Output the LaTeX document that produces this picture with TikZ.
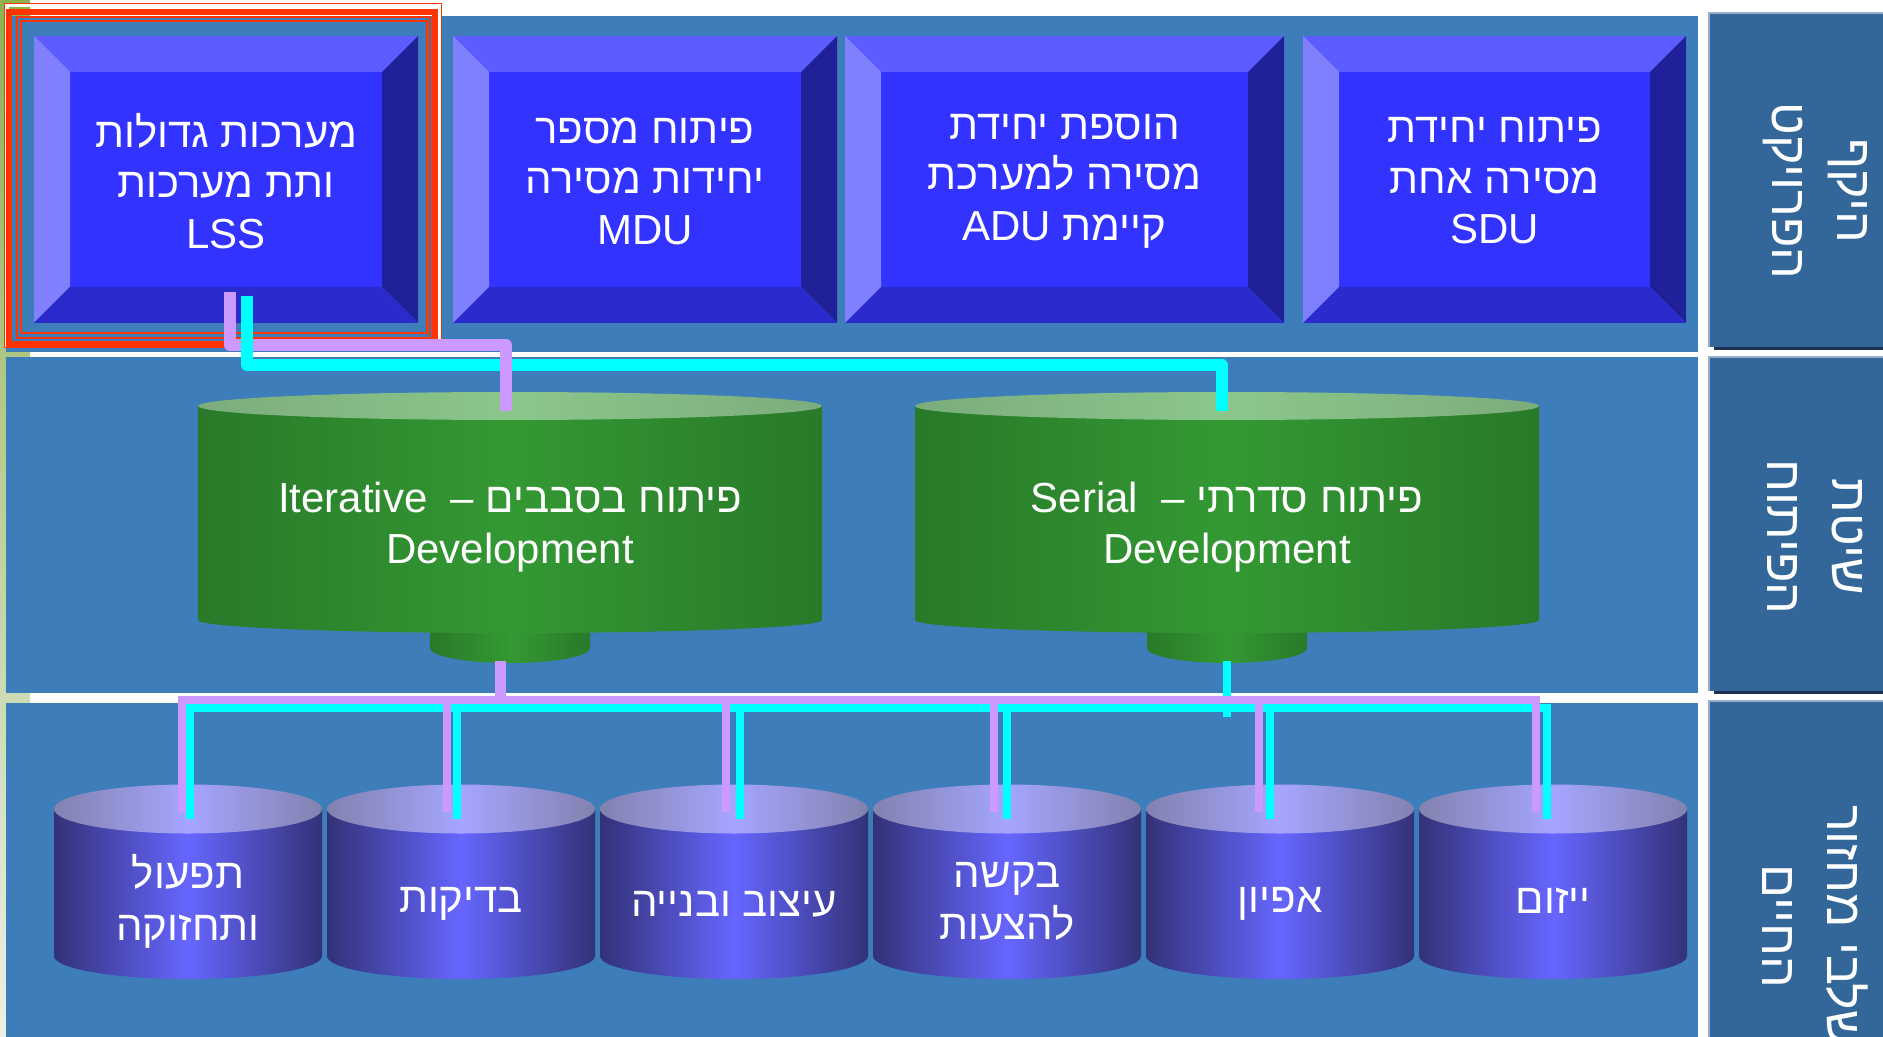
\documentclass[tikz,border=0pt]{standalone}
\usepackage{fontspec}
\setmainfont{Liberation Sans}
\newfontfamily\heb[Script=Hebrew]{Liberation Sans}
\TeXXeTstate=1
\newcommand\HE[1]{{\heb\beginR #1\endR}}
\definecolor{panelc}{RGB}{61,125,186}
\definecolor{labc}{RGB}{52,103,153}
\definecolor{labborder}{RGB}{150,175,205}
\definecolor{labshadow}{RGB}{30,50,85}
\definecolor{stripT}{RGB}{140,178,78}
\definecolor{stripB}{RGB}{236,240,230}
\definecolor{bvface}{RGB}{51,51,255}
\definecolor{bvtop}{RGB}{92,92,255}
\definecolor{bvleft}{RGB}{128,128,255}
\definecolor{bvright}{RGB}{32,32,153}
\definecolor{bvbottom}{RGB}{42,42,205}
\definecolor{redc}{RGB}{255,51,0}
\definecolor{gdark}{RGB}{41,121,41}
\definecolor{gmid}{RGB}{51,153,51}
\definecolor{gtopE}{RGB}{124,172,124}
\definecolor{gtopM}{RGB}{139,199,139}
\definecolor{bdark}{RGB}{50,50,120}
\definecolor{bmid}{RGB}{102,102,255}
\definecolor{btopE}{RGB}{130,130,175}
\definecolor{btopM}{RGB}{165,165,255}
\definecolor{lilacc}{RGB}{204,153,255}
\definecolor{cyanc}{RGB}{0,255,255}

\newcommand\bevelbox[4]{%
  \fill[bvface] (#2+36,72) rectangle (#3-36,287);
  \fill[bvtop] (#2,36) -- (#3,36) -- (#3-36,72) -- (#2+36,72) -- cycle;
  \fill[bvleft] (#2,36) -- (#2+36,72) -- (#2+36,287) -- (#2,323) -- cycle;
  \fill[bvright] (#3,36) -- (#3,323) -- (#3-36,287) -- (#3-36,72) -- cycle;
  \fill[bvbottom] (#2,323) -- (#3,323) -- (#3-36,287) -- (#2+36,287) -- cycle;
  \node[boxtext] (#1) at ({(#2+#3)/2},181) {#4};
}
\newcommand\devcyl[3]{%
  \shade[left color=gdark,right color=gdark,middle color=gmid] (#2-80,600) -- (#2-80,648) arc[start angle=180,end angle=0,x radius=80,y radius=15] -- (#2+80,600) -- cycle;
  \shade[left color=gdark,right color=gdark,middle color=gmid] (#2-312,406) -- (#2-312,620) arc[start angle=180,end angle=0,x radius=312,y radius=13] -- (#2+312,406) -- cycle;
  \shade[left color=gtopE,right color=gtopE,middle color=gtopM] (#2,406) ellipse[x radius=312,y radius=14];
  \node[devtext] (#1) at (#2,527) {#3};
}
% name, cx, text, y of text centre
\newcommand\lifecyl[4]{%
  \shade[left color=bdark,right color=bdark,middle color=bmid] (#2-134,809) -- (#2-134,956) arc[start angle=180,end angle=0,x radius=134,y radius=23] -- (#2+134,809) -- cycle;
  \shade[left color=btopE,right color=btopE,middle color=btopM] (#2,809) ellipse[x radius=134,y radius=24.5];
  \node[cyltext] (#1) at (#2,#4) {#3};
}

\begin{document}
\begin{tikzpicture}[x=0.5pt,y=-0.5pt,
  boxtext/.style={text=white,align=center,inner sep=0pt,font=\fontsize{21}{25.25}\selectfont},
  devtext/.style={text=white,align=center,inner sep=0pt,font=\fontsize{21}{25.5}\selectfont},
  cyltext/.style={text=white,align=center,inner sep=0pt,font=\fontsize{21}{26}\selectfont},
  labtext/.style={text=white,align=center,inner sep=0pt,rotate=-90,font=\fontsize{25}{32.5}\selectfont},
  topl/.style={draw=lilacc,line width=6pt,line join=round},
  topc/.style={draw=cyanc,line width=6pt,line join=round},
  iterdrop/.style={draw=lilacc,line width=5.5pt},
  botl/.style={draw=lilacc,line width=4pt},
  botc/.style={draw=cyanc,line width=4pt}]
\useasboundingbox (0,0) rectangle (1883,1037);
\fill[white] (0,0) rectangle (1883,1037);
% left strip
\shade[top color=stripT,bottom color=stripB] (0,0) rectangle (30,1037);
% panels
\fill[panelc] (6,16) rectangle (1698,352);
\fill[panelc] (6,357) rectangle (1698,693);
\fill[panelc] (6,703) rectangle (1698,1037);
% label boxes
\fill[labshadow] (1714,16) rectangle (1883,350);
\fill[labc] (1709,13) rectangle (1883,347);
\draw[labborder,line width=1pt] (1883,13) -- (1709,13) -- (1709,347);
\fill[labshadow] (1714,360) rectangle (1883,694);
\fill[labc] (1709,357) rectangle (1883,691);
\draw[labborder,line width=1pt] (1883,357) -- (1709,357) -- (1709,691);
\fill[labc] (1709,701) rectangle (1883,1037);
\draw[labborder,line width=1pt] (1883,701) -- (1709,701) -- (1709,1037);
\node[labtext] (lab1) at (1815,191) {\HE{היקף}\\\HE{הפרויקט}};
\node[labtext] (lab2) at (1815,537) {\HE{שיטת}\\\HE{הפיתוח}};
\node[labtext] (lab3) at (1815,926) {\HE{שלבי מחזור}\\\HE{החיים}};
% top bevel boxes
\bevelbox{lss}{34}{418}{\HE{מערכות גדולות}\\\HE{ותת מערכות}\\LSS}
\bevelbox{mdu}{453}{837}{\HE{פיתוח מספר}\\\HE{יחידות מסירה}\\MDU}
\bevelbox{adu}{845}{1284}{\HE{הוספת יחידת}\\\HE{מסירה למערכת}\\ADU \HE{קיימת}}
\bevelbox{sdu}{1303}{1686}{\HE{פיתוח יחידת}\\\HE{מסירה אחת}\\SDU}
% red selection frame
\draw[white,line width=2pt] (6.5,5.5) rectangle (439.5,345.5);
\draw[redc,line width=0.75pt] (4.5,3.5) rectangle (441.5,347.5);
\draw[redc,line width=3pt] (9,12) rectangle (434.5,344.5);
\draw[redc,line width=1pt] (17,17) rectangle (430,338);
\draw[redc,line width=1pt] (21,21) rectangle (427,333);
% development cylinders
\devcyl{iter}{510}{Iterative\ \ –\ \HE{פיתוח בסבבים}\\Development}
\devcyl{ser}{1227}{Serial\ \ –\ \HE{פיתוח סדרתי}\\Development}
% life-cycle cylinders
\lifecyl{op}{188}{\HE{תפעול}\\\HE{ותחזוקה}}{901}
\lifecyl{test}{461}{\HE{בדיקות}}{904}
\lifecyl{build}{734}{\HE{עיצוב ובנייה}}{904}
\lifecyl{rfp}{1007}{\HE{בקשה}\\\HE{להצעות}}{901}
\lifecyl{spec}{1280}{\HE{אפיון}}{904}
\lifecyl{init}{1553}{\HE{ייזום}}{901}
% connector end points
\coordinate (lssL) at (230,292);
\coordinate (lssC) at (247,296);
\coordinate (iterIn) at (506,411);
\coordinate (serIn) at (1222,411);
\coordinate (iterOut) at (500,661);
\coordinate (serOut) at (1227,661);
\coordinate (cl1) at (182,812);  \coordinate (cc1) at (190,819);
\coordinate (cl2) at (447,812);  \coordinate (cc2) at (457,819);
\coordinate (cl3) at (726,812);  \coordinate (cc3) at (740,819);
\coordinate (cl4) at (994,812);  \coordinate (cc4) at (1007,819);
\coordinate (cl5) at (1259,812); \coordinate (cc5) at (1270,819);
\coordinate (cl6) at (1536,812); \coordinate (cc6) at (1547,819);
% top connectors
\draw[topl] (lssL) -- ++(0,53) -| (iterIn);
\draw[topc] (lssC) -- ++(0,69) -| (serIn);
\draw[topl] (iterIn) -- ++(0,-66);
% bottom buses
\draw[botc] (serOut) -- ++(0,56);
\draw[botc] (cc1) -- ++(0,-111) -| (cc6);
\foreach \n in {2,3,4,5} \draw[botc] (cc\n) -- ++(0,-111);
\draw[iterdrop] (iterOut) -- ++(0,39);
\draw[botl] (cl1) -- ++(0,-112) -| (cl6);
\foreach \n in {2,3,4,5} \draw[botl] (cl\n) -- ++(0,-112);
\end{tikzpicture}
\end{document}
